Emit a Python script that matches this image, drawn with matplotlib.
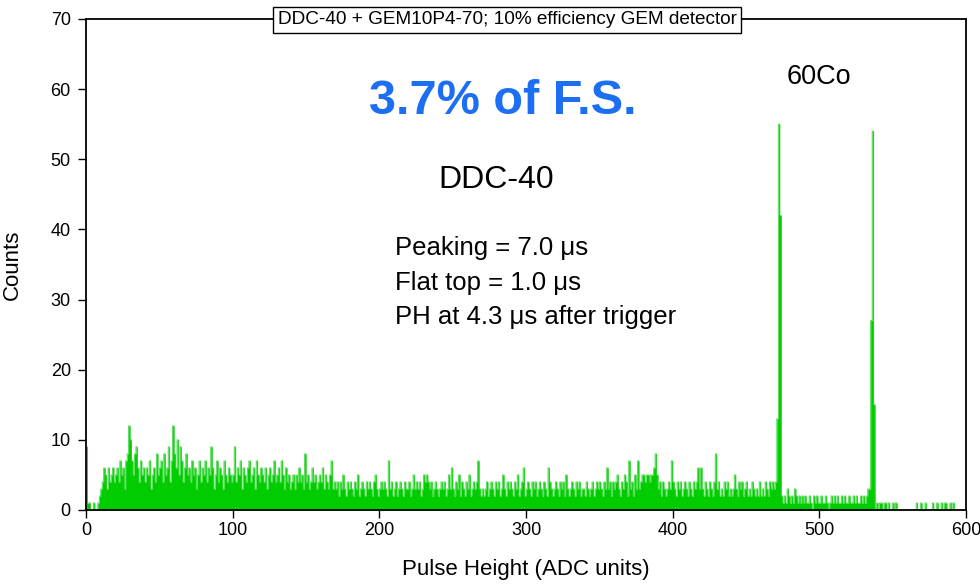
import numpy as np
import matplotlib
matplotlib.use('Agg')
import matplotlib.pyplot as plt

plt.rcParams['font.family'] = ['Liberation Sans', 'DejaVu Sans']

# ================= Data: counts per ADC unit (bins 0..599) =================
counts_000 = [9, 1, 1, 0, 0, 1, 0, 0, 1, 2,
              3, 4, 6, 5, 3, 6, 4, 5, 6, 4,
              5, 6, 4, 7, 5, 6, 3, 7, 8, 12,
              10, 7, 5, 8, 9, 6, 4, 7, 5, 6,
              4, 6, 5, 7, 3, 5, 6, 4, 8, 5,
              6, 7, 4, 8, 5, 6, 9, 4, 7, 12,
              8, 6, 10, 5, 9, 7, 4, 6, 8, 5,
              6, 4, 7, 5, 6, 3, 5, 7, 4, 6,
              5, 7, 4, 6, 5, 9, 6, 3, 5, 7,
              4, 6, 5, 3, 7, 5, 4, 6, 5, 4]
counts_100 = [5, 9, 4, 6, 5, 7, 3, 6, 5, 4,
              6, 7, 4, 5, 6, 3, 7, 5, 4, 6,
              5, 4, 6, 3, 5, 6, 4, 5, 7, 4,
              5, 6, 4, 7, 5, 3, 6, 4, 5, 3,
              4, 5, 3, 5, 4, 6, 4, 5, 3, 8,
              4, 5, 3, 4, 6, 4, 5, 3, 4, 5,
              4, 6, 3, 5, 4, 3, 5, 7, 3, 4,
              3, 4, 2, 4, 3, 5, 3, 2, 4, 3,
              4, 3, 2, 4, 3, 5, 2, 3, 4, 3,
              2, 4, 3, 4, 3, 2, 4, 5, 3, 2]
counts_200 = [3, 4, 3, 4, 3, 2, 7, 3, 4, 2,
              3, 4, 2, 3, 4, 3, 2, 4, 3, 3,
              4, 2, 3, 5, 3, 4, 3, 4, 2, 3,
              5, 4, 5, 4, 3, 4, 2, 3, 4, 3,
              2, 3, 4, 3, 4, 2, 3, 5, 3, 6,
              3, 2, 4, 3, 5, 2, 4, 3, 2, 4,
              3, 5, 2, 3, 4, 3, 4, 7, 3, 2,
              3, 2, 3, 4, 2, 3, 4, 3, 2, 4,
              3, 4, 2, 3, 5, 3, 2, 4, 3, 4,
              3, 2, 4, 3, 5, 2, 3, 4, 6, 2]
counts_300 = [3, 4, 3, 2, 4, 3, 4, 2, 3, 4,
              3, 2, 4, 3, 2, 6, 4, 3, 2, 3,
              4, 3, 2, 4, 3, 4, 2, 5, 3, 2,
              3, 4, 3, 2, 4, 3, 4, 2, 3, 3,
              2, 4, 3, 2, 3, 4, 2, 3, 4, 3,
              4, 3, 2, 4, 3, 6, 3, 4, 2, 4,
              3, 4, 5, 3, 2, 4, 3, 5, 4, 2,
              7, 3, 4, 2, 5, 3, 7, 3, 4, 5,
              5, 4, 5, 5, 4, 5, 5, 6, 8, 5,
              3, 4, 2, 4, 3, 2, 3, 4, 3, 7]
counts_400 = [4, 3, 2, 4, 3, 4, 2, 3, 4, 3,
              2, 4, 3, 2, 4, 3, 4, 6, 3, 6,
              3, 2, 4, 3, 2, 4, 3, 2, 4, 8,
              3, 4, 2, 3, 2, 4, 3, 4, 2, 3,
              2, 3, 5, 3, 2, 4, 3, 4, 2, 3,
              4, 2, 3, 2, 4, 3, 2, 3, 2, 4,
              2, 3, 2, 4, 3, 2, 4, 3, 4, 3,
              4, 13, 55, 42, 2, 1, 2, 1, 3, 2,
              1, 2, 1, 3, 2, 1, 2, 1, 2, 1,
              2, 1, 1, 2, 1, 0, 2, 1, 2, 1]
counts_500 = [1, 2, 1, 1, 2, 1, 0, 1, 2, 1,
              2, 1, 2, 1, 1, 2, 1, 2, 1, 1,
              2, 1, 1, 2, 1, 2, 1, 1, 2, 1,
              2, 1, 2, 3, 3, 27, 54, 15, 0, 1,
              0, 1, 1, 0, 1, 1, 0, 1, 0, 0,
              1, 0, 1, 0, 0, 0, 0, 0, 0, 0,
              0, 0, 0, 0, 0, 0, 1, 0, 0, 1,
              0, 0, 1, 0, 0, 0, 0, 1, 0, 0,
              1, 0, 0, 1, 0, 1, 1, 0, 0, 1,
              0, 1, 0, 0, 0, 0, 0, 0, 0, 0]

counts = np.array(counts_000 + counts_100 + counts_200 + counts_300
                  + counts_400 + counts_500)
edges = np.arange(len(counts) + 1)

title_text = 'DDC-40 + GEM10P4-70; 10% efficiency GEM detector'

# ================= Figure =================
fig = plt.figure(figsize=(9.8, 5.86), dpi=100)
ax = fig.add_axes([0.0878, 0.1297, 0.8979, 0.8379])

y_step = np.append(counts, counts[-1])
ax.fill_between(edges, y_step, step='post', color='#00cc00', linewidth=0)
ax.step(edges, y_step, where='post', color='#33d633', linewidth=0.55)

ax.set_xlim(0, 600)
ax.set_ylim(0, 70)
ax.set_xticks(np.arange(0, 601, 100))
ax.set_yticks(np.arange(0, 71, 10))
ax.tick_params(direction='out', length=6, width=1, labelsize=13)
ax.tick_params(axis='x', pad=3)
ax.tick_params(axis='y', pad=5)
for s in ax.spines.values():
    s.set_linewidth(1.3)

ax.set_xlabel('Pulse Height (ADC units)', fontsize=16, labelpad=14)
ax.set_ylabel('Counts', fontsize=16, labelpad=20)

# title box over the top spine
fig.text(507 / 980, 1 - 20 / 586, title_text, ha='center', va='center',
         fontsize=13.7,
         bbox=dict(boxstyle='square,pad=0.22', facecolor='white',
                   edgecolor='black', linewidth=1))

# annotations
ax.text(284, 58.2, '3.7% of F.S.', color='#1c6ef2', fontsize=35,
        fontweight='bold', ha='center', va='center')
ax.text(500, 61.8, '60Co', fontsize=19.5, ha='center', va='center')
ax.text(280, 47, 'DDC-40', fontsize=23, ha='center', va='center')
ax.text(210.5, 37.3, 'Peaking = 7.0 \u03bcs', fontsize=18.5, ha='left', va='center')
ax.text(210.5, 32.4, 'Flat top = 1.0 \u03bcs', fontsize=18.5, ha='left', va='center')
ax.text(210.5, 27.5, 'PH at 4.3 \u03bcs after trigger', fontsize=18.5,
        ha='left', va='center')

plt.savefig('out.png', dpi=100)
plt.close()
